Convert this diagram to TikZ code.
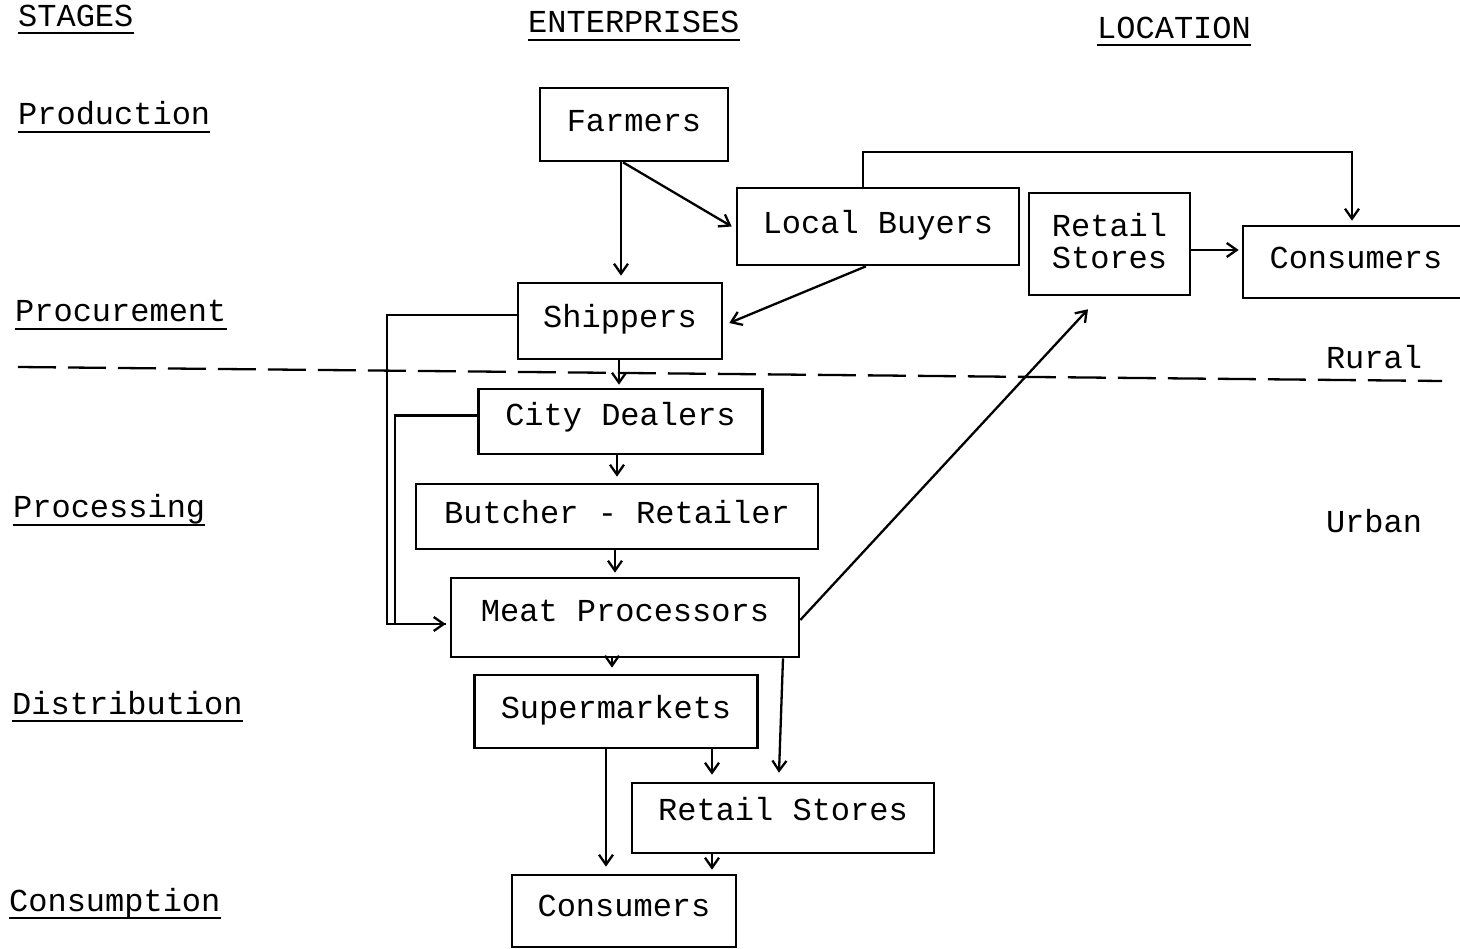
\documentclass[tikz,border=0pt]{standalone}
\usepackage{fontspec}
\usetikzlibrary{arrows.meta}
\newfontfamily\typewr{Liberation Mono}
\begin{document}
\begin{tikzpicture}[x=1pt,y=-1pt,
  every node/.style={font={\typewr\fontsize{32}{32}\selectfont}},
  stepbox/.style={draw, line width=2.6pt, inner sep=0pt, text height=19pt, text depth=5pt},
  plainlbl/.style={inner sep=0pt, anchor=base west},
  uline/.style={line width=2.3pt},
  conn/.style={line width=2.3pt, -{Straight Barb[length=10pt,width=14pt]}},
  wire/.style={line width=2.3pt},
]
\fill[white] (0,0) rectangle (1460,949);
\useasboundingbox (0,0) rectangle (1460,949);

% column headings
\node[plainlbl] (hstage) at (18,27) {STAGES};
\node[plainlbl] (hent) at (528,33) {ENTERPRISES};
\node[plainlbl] (hloc) at (1097,39) {LOCATION};
\draw[uline] ([yshift=-6pt]hstage.base west) -- ([yshift=-6pt]hstage.base east);
\draw[uline] ([yshift=-7pt]hent.base west) -- ([yshift=-7pt]hent.base east);
\draw[uline] ([yshift=-6pt]hloc.base west) -- ([yshift=-6pt]hloc.base east);

% stage labels
\node[plainlbl] (sprod) at (18,125) {Production};
\node[plainlbl] (sproc) at (15,322) {Procurement};
\node[plainlbl] (sproces) at (13,518) {Processing};
\node[plainlbl] (sdist) at (12,714) {Distribution};
\node[plainlbl] (scons) at (9,911) {Consumption};
\foreach \s in {sprod,sproc,sproces,sdist,scons}
  \draw[uline] ([yshift=-7pt]\s.base west) -- ([yshift=-7pt]\s.base east);

% location labels
\node (rural) at (1374,357) {Rural};
\node (urban) at (1374,521) {Urban};

% rural / urban divide
\draw[line width=2.3pt, dash pattern=on 38pt off 12pt] (18,367) -- (1442,381);

% enterprises
\node[stepbox, minimum width=188pt, minimum height=73pt] (farm) at (634,124.5) {Farmers};
\node[stepbox, minimum width=282pt, minimum height=77pt] (lb) at (878,226.5) {Local Buyers};
\node[draw, line width=2.6pt, inner sep=0pt, minimum width=161pt, minimum height=102pt, align=center, text depth=6pt] (rst) at (1109.5,244) {Retail\\Stores};
\node[stepbox, minimum width=226pt, minimum height=72pt] (conr) at (1356,262) {Consumers};
\node[stepbox, minimum width=204pt, minimum height=76pt] (shp) at (620,321) {Shippers};
\node[stepbox, minimum width=284pt, minimum height=65pt, text depth=11pt] (city) at (620.5,421.5) {City Dealers};
\node[stepbox, minimum width=402pt, minimum height=65pt] (but) at (617,516.5) {Butcher - Retailer};
\node[stepbox, minimum width=348pt, minimum height=79pt, text depth=11pt] (meat) at (625,617.5) {Meat Processors};
\node[stepbox, minimum width=283pt, minimum height=73pt] (sup) at (616,711.5) {Supermarkets};
\node[stepbox, minimum width=302pt, minimum height=70pt, text depth=15pt] (rsb) at (783,818) {Retail Stores};
\node[stepbox, minimum width=224pt, minimum height=72pt, text depth=8pt] (consb) at (624,911) {Consumers};

% flows in the rural area
\draw[conn] ([xshift=-13pt]farm.south) -- ([xshift=1pt,yshift=6pt]shp.north);
\draw[conn] ([xshift=-11pt]farm.south) -- ([xshift=-4pt]lb.west);
\draw[conn] ([xshift=-15pt]lb.north) -- ++(0,-35) -| ([xshift=-4pt,yshift=4pt]conr.north);
\draw[conn] ([xshift=-12pt]lb.south) -- ([xshift=6pt,yshift=-2pt]shp.east);
\draw[conn, shorten >=3pt] ([yshift=-6pt]rst.east) -- ([yshift=-6pt]rst.east -| conr.west);

% flows into the processors
\draw[conn] ([yshift=6pt]shp.west) -- ++(-130,0) |- ([xshift=-4pt,yshift=-6.5pt]meat.west);
\draw[wire] ([yshift=6pt]city.west) -- ++(-82,0) |- ([xshift=-4pt,yshift=-6.5pt]meat.west);
\draw[conn, shorten >=3pt] ([xshift=-1pt]shp.south) -- ([xshift=-1pt]shp.south |- city.north);
\draw[conn, shorten >=6pt] ([xshift=-3.5pt]city.south) -- ([xshift=-3.5pt]city.south |- but.north);
\draw[conn, shorten >=4pt] ([xshift=-2pt]but.south) -- ([xshift=-2pt]but.south |- meat.north);

% flows out of the processors
\draw[conn, shorten >=6pt] ([xshift=-13pt]meat.south) -- ([xshift=-13pt]meat.south |- sup.north);
\draw[conn] ([yshift=-2.5pt]meat.east) -- ([xshift=-21.5pt,yshift=-13pt]rst.south);
\draw[conn] ([xshift=158pt]meat.south) -- ([xshift=-4pt,yshift=9pt]rsb.north);

% distribution to consumers
\draw[conn, shorten >=7pt] ([xshift=96pt]sup.south) -- ([xshift=96pt]sup.south |- rsb.north);
\draw[conn] ([xshift=-10pt]sup.south) -- ([xshift=-18pt,yshift=7pt]consb.north);
\draw[conn, shorten >=4pt] ([xshift=-71pt]rsb.south) -- ([xshift=-71pt]rsb.south |- consb.north);
\end{tikzpicture}
\end{document}
